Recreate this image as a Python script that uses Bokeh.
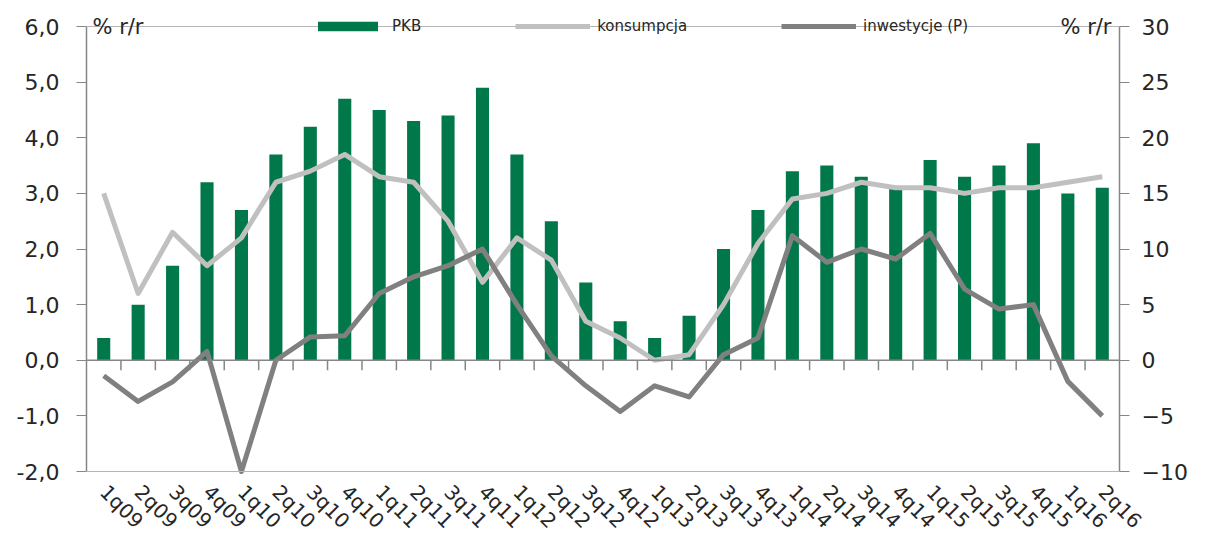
import math
from bokeh.plotting import figure
from bokeh.models import (Range1d, LinearAxis, FixedTicker, CustomJSTickFormatter,
                          Legend, LegendItem, Label, Span, ColumnDataSource)
from bokeh.embed import file_html
from bokeh.resources import INLINE

quarters = ["1q09", "2q09", "3q09", "4q09", "1q10", "2q10", "3q10", "4q10",
            "1q11", "2q11", "3q11", "4q11", "1q12", "2q12", "3q12", "4q12",
            "1q13", "2q13", "3q13", "4q13", "1q14", "2q14", "3q14", "4q14",
            "1q15", "2q15", "3q15", "4q15", "1q16", "2q16"]
pkb = [0.4, 1.0, 1.7, 3.2, 2.7, 3.7, 4.2, 4.7,
       4.5, 4.3, 4.4, 4.9, 3.7, 2.5, 1.4, 0.7,
       0.4, 0.8, 2.0, 2.7, 3.4, 3.5, 3.3, 3.1,
       3.6, 3.3, 3.5, 3.9, 3.0, 3.1]
konsumpcja = [3.0, 1.2, 2.3, 1.7, 2.2, 3.2, 3.4, 3.7,
              3.3, 3.2, 2.5, 1.4, 2.2, 1.8, 0.7, 0.4,
              0.0, 0.1, 1.0, 2.1, 2.9, 3.0, 3.2, 3.1,
              3.1, 3.0, 3.1, 3.1, 3.2, 3.3]
inwestycje = [-1.4, -3.7, -1.95, 0.8, -10.0, 0.0, 2.1, 2.2,
              6.0, 7.5, 8.5, 10.0, 5.0, 0.4, -2.3, -4.6,
              -2.3, -3.3, 0.5, 2.0, 11.2, 8.8, 10.0, 9.1,
              11.4, 6.4, 4.6, 5.0, -1.9, -5.0]
left_ticks = [-2, -1, 0, 1, 2, 3, 4, 5, 6]
right_ticks = [-10, -5, 0, 5, 10, 15, 20, 25, 30]

FONT = "DejaVu Sans"
TXT = "#262626"
AX = "#868686"
GRID = "#B4B4B4"

W, H = 1190, 544
TOP_BORDER = 8
BOTTOM_BORDER = 58
frame_bottom_px = H - BOTTOM_BORDER
# pixel layout of the value axis (6,0 at top, -2,0 at bottom)
y_hi_px, y_lo_px = 26, 471
ppu = (y_lo_px - y_hi_px) / (left_ticks[-1] - left_ticks[0])
y_end = left_ticks[-1] + (y_hi_px - TOP_BORDER) / ppu
y_start = left_ticks[0] - (frame_bottom_px - y_lo_px) / ppu
ratio = (right_ticks[-1] - right_ticks[0]) / (left_ticks[-1] - left_ticks[0])
r_start = right_ticks[0] + (y_start - left_ticks[0]) * ratio
r_end = right_ticks[-1] + (y_end - left_ticks[-1]) * ratio

n = len(quarters)
xs = list(range(n))
src = ColumnDataSource(dict(x=xs, pkb=pkb, kons=konsumpcja, inw=inwestycje))

p = figure(width=W, height=H, output_backend="svg", toolbar_location=None,
           x_range=Range1d(-0.5, n - 0.5), y_range=Range1d(y_start, y_end),
           min_border_left=86, min_border_right=58, min_border_top=TOP_BORDER,
           min_border_bottom=BOTTOM_BORDER)
p.extra_y_ranges = {"inw": Range1d(r_start, r_end)}
p.xgrid.visible = False
p.ygrid.visible = False
p.outline_line_color = None
p.background_fill_color = "white"
p.border_fill_color = "white"

# category axis (labels only)
xa = p.xaxis[0]
xa.ticker = FixedTicker(ticks=xs)
xa.major_label_overrides = {i: q for i, q in enumerate(quarters)}
xa.axis_line_color = None
xa.major_tick_line_color = None
xa.major_tick_out = 0
xa.major_tick_in = 0
xa.minor_tick_line_color = None
xa.minor_tick_out = 0
xa.major_label_orientation = -math.pi / 4
xa.major_label_text_font = FONT
xa.major_label_text_font_size = "20px"
xa.major_label_text_color = TXT
xa.major_label_standoff = 2

# left axis
ya = p.yaxis[0]
ya.bounds = (left_ticks[0], left_ticks[-1])
ya.ticker = FixedTicker(ticks=left_ticks)
ya.formatter = CustomJSTickFormatter(code="return tick.toFixed(1).replace('.', ',');")
ya.axis_line_color = AX
ya.axis_line_width = 1.5
ya.major_tick_line_color = AX
ya.major_tick_out = 10
ya.major_tick_in = 0
ya.minor_tick_line_color = None
ya.major_label_text_font = FONT
ya.major_label_text_font_size = "22px"
ya.major_label_text_color = TXT
ya.major_label_standoff = 17

# right axis
ra = LinearAxis(y_range_name="inw", ticker=FixedTicker(ticks=right_ticks),
                bounds=(right_ticks[0], right_ticks[-1]))
ra.axis_line_color = AX
ra.axis_line_width = 1.5
ra.major_tick_line_color = AX
ra.major_tick_out = 10
ra.major_tick_in = 0
ra.minor_tick_line_color = None
ra.major_label_text_font = FONT
ra.major_label_text_font_size = "22px"
ra.major_label_text_color = TXT
ra.major_label_standoff = 12
p.add_layout(ra, "right")

# top / bottom border lines and zero line with category ticks
p.add_layout(Span(location=left_ticks[-1], dimension="width", line_color=GRID, line_width=1))
p.add_layout(Span(location=left_ticks[0], dimension="width", line_color=GRID, line_width=1))
p.add_layout(Span(location=0, dimension="width", line_color=AX, line_width=1.5))
bounds = [i + 0.5 for i in range(n - 1)]
p.segment(x0=bounds, y0=[0] * len(bounds), x1=bounds, y1=[-10 / ppu] * len(bounds),
          line_color=AX, line_width=1.5)

bars = p.vbar(x="x", top="pkb", width=0.38, source=src,
              fill_color="#00784A", line_color=None)
l_kons = p.line(x="x", y="kons", source=src, line_color="#C0C0C0", line_width=5,
                line_join="round")
l_inw = p.line(x="x", y="inw", source=src, y_range_name="inw", line_color="#808080",
               line_width=5, line_join="round")

legend_h = 20
frame_h = frame_bottom_px - TOP_BORDER
legend = Legend(items=[LegendItem(label="PKB", renderers=[bars]),
                       LegendItem(label="konsumpcja", renderers=[l_kons]),
                       LegendItem(label="inwestycje (P)", renderers=[l_inw])],
                orientation="horizontal",
                location=(224, frame_h - (y_hi_px - TOP_BORDER) - legend_h // 2),
                glyph_width=75, glyph_height=12, label_standoff=7, spacing=94,
                padding=0, margin=0, background_fill_alpha=0, border_line_alpha=0,
                label_text_font=FONT, label_text_font_size="15px",
                label_text_color=TXT, label_height=legend_h)
p.add_layout(legend)

p.add_layout(Label(x=-0.5, y=left_ticks[-1], text="% r/r", x_offset=6,
                   text_baseline="middle", text_font=FONT, text_font_size="21px",
                   text_color=TXT))
p.add_layout(Label(x=n - 0.5, y=left_ticks[-1], text="% r/r", x_offset=-8,
                   text_align="right", text_baseline="middle", text_font=FONT,
                   text_font_size="21px", text_color=TXT))

open("out.html", "w").write(file_html(p, INLINE))
